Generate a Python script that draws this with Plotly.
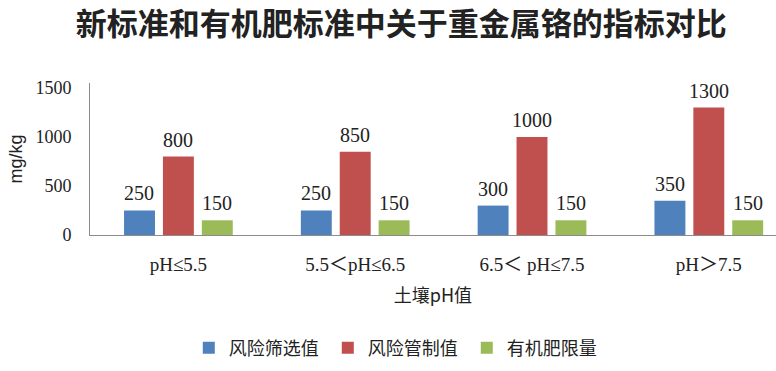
import plotly.graph_objects as go

categories = ["pH≤5.5", "5.5＜pH≤6.5", "6.5＜ pH≤7.5", "pH＞7.5"]
screening = [250, 250, 300, 350]
control = [800, 850, 1000, 1300]
organic = [150, 150, 150, 150]
series_names = ["风险筛选值", "风险管制值", "有机肥限量"]
colors = ["#4F81BD", "#C0504D", "#9BBB59"]

serif = "Liberation Serif, DejaVu Serif, Noto Sans CJK SC"
cjk = "Noto Sans CJK SC, sans-serif"

series = [screening, control, organic]
fig = go.Figure()
for name, vals, col in zip(series_names, series, colors):
    fig.add_trace(go.Bar(
        x=categories, y=vals, name=name, marker_color=col,
        marker_line_width=0, cliponaxis=False,
    ))

# value labels above each bar (slot offset inside the group, padding above the bar)
slot_px = 39
for i, vals in enumerate(series):
    for cat, v in zip(categories, vals):
        fig.add_annotation(
            x=cat, y=v, xref="x", yref="y", text=str(v), showarrow=False,
            xshift=(i - 1) * slot_px, yshift=17, yanchor="middle",
            font=dict(family=serif, size=20, color="#222222"),
        )

fig.update_layout(
    width=776, height=371,
    margin=dict(l=90, r=0, t=83, b=136, autoexpand=False),
    paper_bgcolor="white", plot_bgcolor="white",
    barmode="group", bargap=0.34, bargroupgap=0.205,
    title=dict(text="<b>新标准和有机肥标准中关于重金属铬的指标对比</b>",
               x=0.517, xanchor="center", y=0.935, yanchor="middle",
               font=dict(family=cjk, size=31, color="#222222")),
    showlegend=True,
    legend=dict(orientation="h", x=0.144, xanchor="left", y=-0.743, yanchor="middle",
                font=dict(family=cjk, size=18, color="#222222"),
                entrywidth=94, entrywidthmode="pixels", itemwidth=30),
)
fig.update_xaxes(
    range=[-0.5, 3.38], showline=True, linecolor="#8c8c8c", linewidth=1,
    ticks="", showgrid=False, automargin=False,
    tickfont=dict(family=serif, size=19, color="#222222"), ticklabelstandoff=12,
    title=dict(text="土壤pH值", font=dict(family=cjk, size=18, color="#222222"), standoff=15),
)
fig.update_yaxes(
    range=[0, 1550], tickvals=[0, 500, 1000, 1500], showline=True,
    linecolor="#8c8c8c", linewidth=1, ticks="", showgrid=False, zeroline=False,
    automargin=False,
    tickfont=dict(family=serif, size=18, color="#222222"), ticklabelstandoff=14,
    title=dict(text="mg/kg", font=dict(family="Liberation Sans, Arial, sans-serif", size=18, color="#222222"), standoff=8),
)

fig.write_html("out.html", config={"displayModeBar": False},
               post_script="document.body.style.margin='0';document.body.style.overflow='hidden';")
